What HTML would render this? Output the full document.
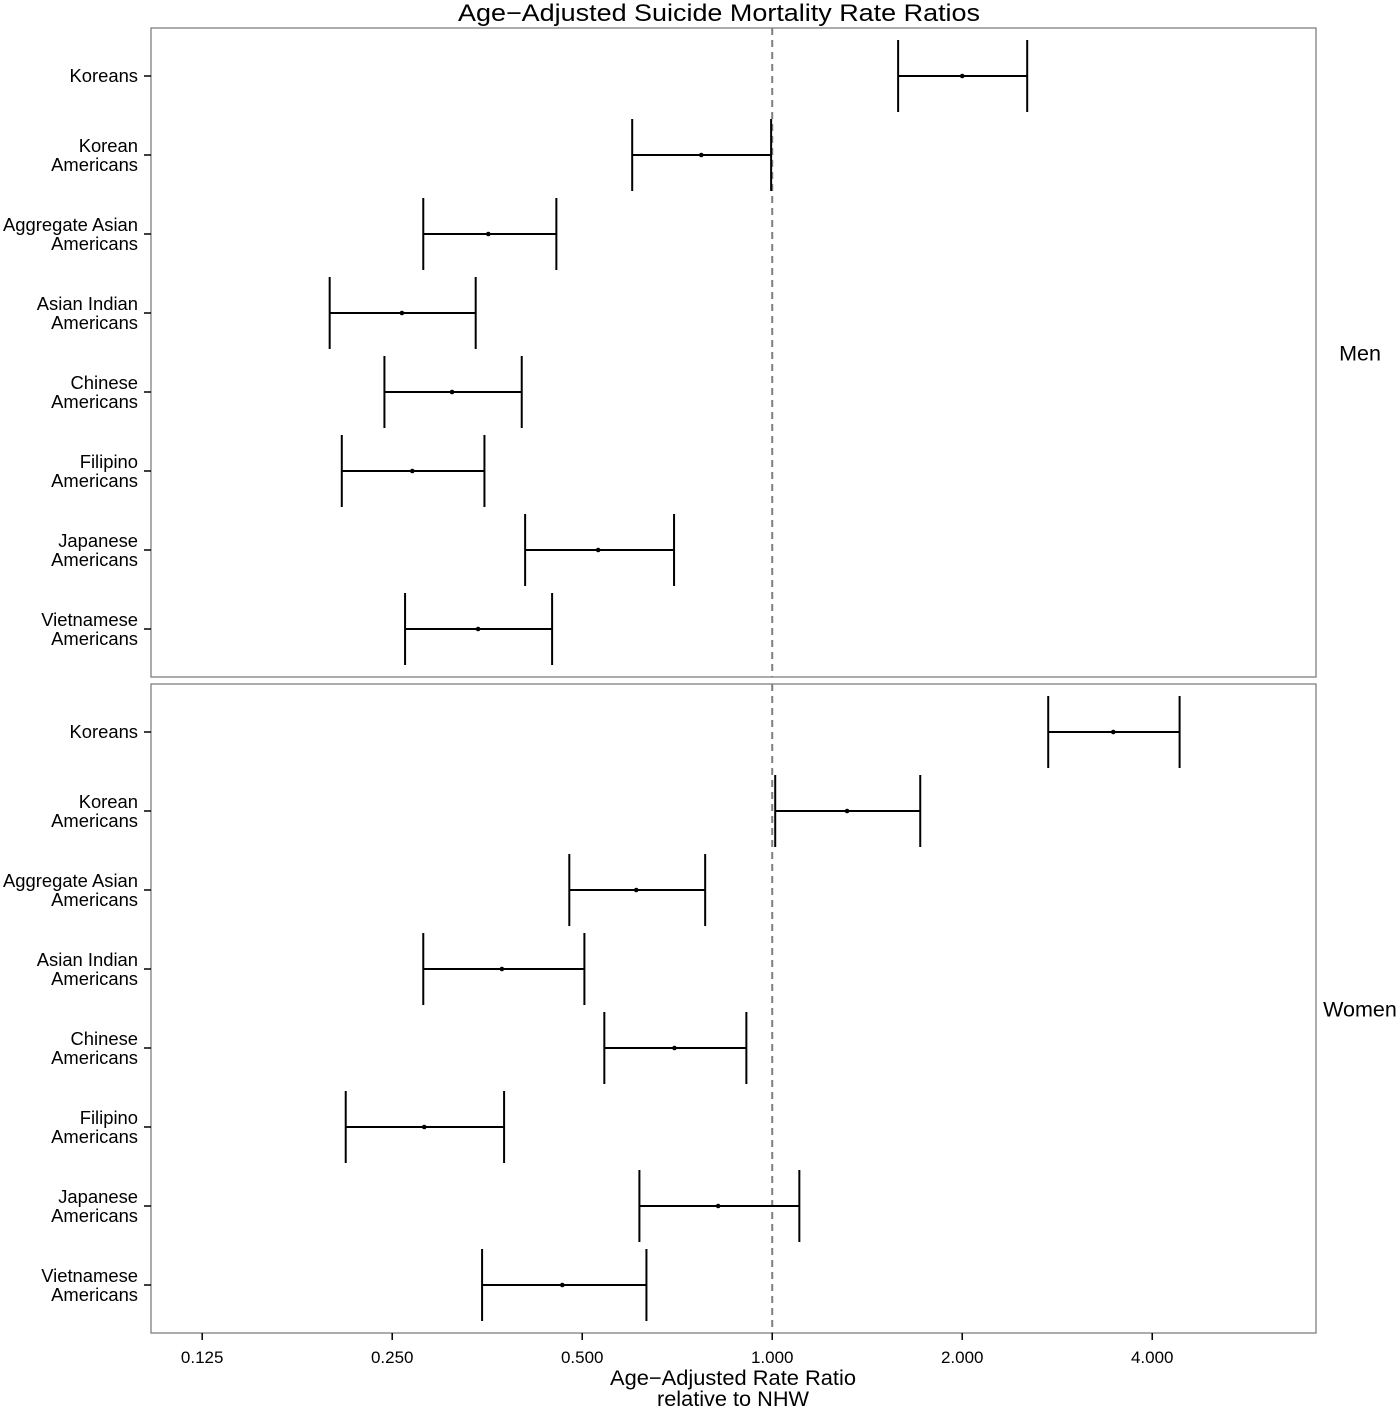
<!DOCTYPE html>
<html><head><meta charset="utf-8"><style>
body{margin:0;background:#fff}
svg{display:block;font-family:"Liberation Sans",Arial,sans-serif}
</style></head><body>
<svg id="chart" width="1400" height="1410" viewBox="0 0 1400 1410" xmlns="http://www.w3.org/2000/svg">
<text x="719" y="21" font-size="24" text-anchor="middle" textLength="522" lengthAdjust="spacingAndGlyphs">Age−Adjusted Suicide Mortality Rate Ratios</text>
<text x="733" y="1385" font-size="21" text-anchor="middle" textLength="246" lengthAdjust="spacingAndGlyphs">Age−Adjusted Rate Ratio</text>
<text x="733" y="1406" font-size="21" text-anchor="middle" textLength="152" lengthAdjust="spacingAndGlyphs">relative to NHW</text>
</svg>
<script>
const categories=["Koreans","Korean|Americans","Aggregate Asian|Americans","Asian Indian|Americans","Chinese|Americans","Filipino|Americans","Japanese|Americans","Vietnamese|Americans"];
const panels=["Men","Women"];
const menLow=[1.583,0.600,0.280,0.199,0.243,0.208,0.406,0.262];
const menEst=[2.0,0.772,0.355,0.259,0.311,0.269,0.530,0.342];
const menHigh=[2.535,0.996,0.455,0.339,0.401,0.350,0.699,0.448];
const womenLow=[2.737,1.011,0.477,0.280,0.542,0.211,0.616,0.347];
const womenEst=[3.470,1.314,0.609,0.373,0.700,0.281,0.821,0.465];
const womenHigh=[4.42,1.716,0.783,0.504,0.910,0.376,1.104,0.632];
const xTicks=[0.125,0.25,0.5,1,2,4];
const xTickLabels=["0.125","0.250","0.500","1.000","2.000","4.000"];
const refValue=1;

const svg=document.getElementById('chart');
const NS='http://www.w3.org/2000/svg';
const X0=151,X1=1316,vMin=0.1037,vMax=7.27;
function xs(v){return X0+(Math.log2(v)-Math.log2(vMin))/(Math.log2(vMax)-Math.log2(vMin))*(X1-X0);}
const panelTops=[28,684],PH=649;
function ys(p,i){return panelTops[p]+48+i*(PH-96)/(categories.length-1);}
function mk(tag,attrs){const e=document.createElementNS(NS,tag);for(const k in attrs)e.setAttribute(k,attrs[k]);svg.appendChild(e);return e;}
const data=[[menLow,menEst,menHigh],[womenLow,womenEst,womenHigh]];
panels.forEach((pn,p)=>{
  const r=mk('rect',{x:X0,y:panelTops[p],width:X1-X0,height:PH,fill:'none',stroke:'#7f7f7f','stroke-width':1.3});
  
  
  const lab=mk('text',{x:1360,y:panelTops[p]+PH/2+8,'font-size':21.5,'text-anchor':'middle'});
  lab.textContent=pn;
  
  
  const rl=mk('line',{x1:xs(refValue),x2:xs(refValue),y1:panelTops[p],y2:panelTops[p]+PH,stroke:'#7f7f7f','stroke-width':2,'stroke-dasharray':'7,5'});
  
  
  categories.forEach((c,i)=>{
    const y=ys(p,i);
    const t=mk('line',{x1:X0-7,x2:X0,y1:y,y2:y,stroke:'#000','stroke-width':1.5});
    
    
    const parts=c.split('|');
    const tx=mk('text',{x:138,'font-size':18.4,'text-anchor':'end'});
    
    
    parts.forEach((s,k)=>{const ts=document.createElementNS(NS,'tspan');ts.setAttribute('x',138);ts.setAttribute('y',parts.length==1?y+6:y-3+k*19);ts.textContent=s;tx.appendChild(ts);});
    const [lo,es,hi]=[data[p][0][i],data[p][1][i],data[p][2][i]];
    const g=document.createElementNS(NS,'g');svg.appendChild(g);
    
    
    const add=(tag,a)=>{const e=document.createElementNS(NS,tag);for(const k in a)e.setAttribute(k,a[k]);g.appendChild(e);};
    add('line',{x1:xs(lo),x2:xs(hi),y1:y,y2:y,stroke:'#000','stroke-width':2});
    add('line',{x1:xs(lo),x2:xs(lo),y1:y-36,y2:y+36,stroke:'#000','stroke-width':2});
    add('line',{x1:xs(hi),x2:xs(hi),y1:y-36,y2:y+36,stroke:'#000','stroke-width':2});
    add('circle',{cx:xs(es),cy:y,r:2.3,fill:'#000'});
  });
});
xTicks.forEach((v,i)=>{
  const x=xs(v),yb=panelTops[1]+PH;
  const t=mk('line',{x1:x,x2:x,y1:yb,y2:yb+7,stroke:'#000','stroke-width':1.5});
  
  
  const l=mk('text',{x:x,y:yb+30,'font-size':17,'text-anchor':'middle'});
  l.textContent=xTickLabels[i];
  
  
});
</script>
</body></html>
